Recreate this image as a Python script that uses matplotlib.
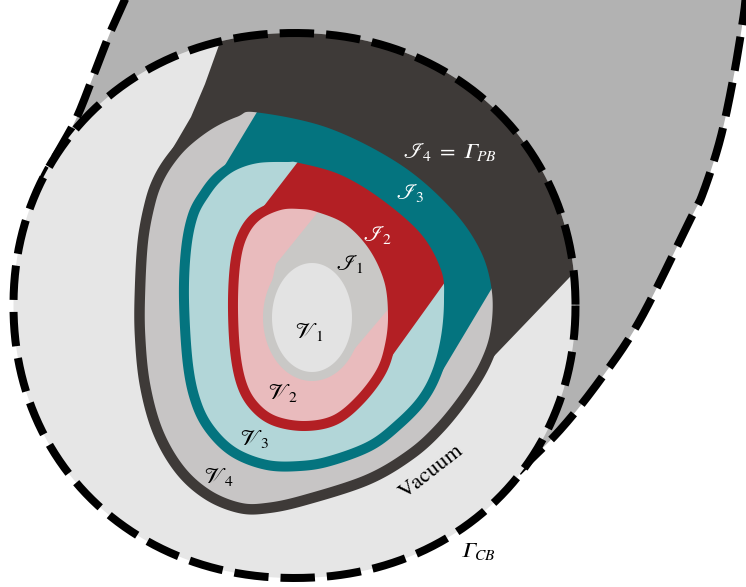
import numpy as np
import matplotlib
matplotlib.use("Agg")
import matplotlib.pyplot as plt
from matplotlib.patches import Polygon

plt.rcParams['mathtext.fontset'] = 'stix'

# outline points (image pixel coordinates, y pointing down)
teardrop_left = [(127, -5), (110, 33), (93, 77), (77, 117), (62, 145), (45, 175), (32, 205)]
teardrop_right = [(518, 472), (560, 430), (600, 380), (640, 320), (690, 220), (703, 193),
                  (720, 140), (733, 80), (743, 20), (746, -5)]
cb_center = (294.5, 305.5)
cb_axes = (281, 272.5)

c4 = [(140, 290), (143, 240), (150, 203), (158, 180), (170, 160), (186, 142), (210, 124),
      (235, 112), (256, 107), (330, 123), (403, 160), (455, 205), (485, 248), (497, 290),
      (496, 330), (486, 362), (467, 394), (440, 428), (410, 455), (367, 480), (305, 500),
      (268, 508), (240, 508), (208, 495), (180, 470), (158, 432), (145, 385), (140, 335)]
c3 = [(184, 300), (186, 250), (193, 215), (205, 193), (218, 177), (235, 165), (258, 158),
      (287, 157), (300, 158), (342, 170), (384, 195), (425, 231), (446, 269), (449, 300),
      (446, 337), (437, 372), (422, 400), (398, 425), (370, 446), (330, 461), (300, 466),
      (267, 465), (235, 453), (212, 432), (197, 405), (188, 365)]
c2 = [(233, 300), (236, 258), (244, 232), (258, 215), (280, 205), (300, 204), (318, 207),
      (348, 220), (373, 246), (389, 280), (393, 315), (390, 345), (381, 372), (360, 400),
      (335, 420), (305, 426), (275, 421), (255, 407), (242, 385), (235, 350)]
v1_center = (312, 317.5)
v1_axes = (44.5, 59)

wedge4 = [(269, -52), (219, 45), (205, 84), (191, 117), (177, 141), (165, 161), (315, 315),
          (452, 400), (568, 279), (626, 218), (800, 100), (800, -100), (300, -100)]
wedge3 = [(285, 65), (257, 112), (210, 190), (205, 198), (315, 315), (425, 400), (492, 288),
          (517, 245), (560, 80), (300, 30)]
wedge2 = [(337, 111), (297, 163), (247, 228), (243, 234), (315, 315), (392, 356), (438, 292),
          (472, 244), (470, 130)]
wedge1 = [(352, 170), (318, 212), (276, 264), (270, 290), (312, 318), (335, 372), (385, 313),
          (420, 272), (430, 180)]

labels = [r'$\mathscr{I}_4\;=\;\mathrm{𝛤}_{PB}$', r'$\mathscr{I}_3$', r'$\mathscr{I}_2$',
          r'$\mathscr{I}_1$', r'$\mathscr{V}_1$', r'$\mathscr{V}_2$', r'$\mathscr{V}_3$',
          r'$\mathscr{V}_4$', r'$\mathrm{𝛤}_{CB}$']
label_xy = [(450, 152), (410, 193), (378, 235), (350, 264), (309, 332), (283, 393),
            (255, 439), (219, 477), (478, 551)]
label_color = ['white', 'white', 'white', 'black', 'black', 'black', 'black', 'black', 'black']

col_out = '#b2b2b2'
col_vac = '#e6e6e6'
col_dark = '#3e3a38'
col_v4 = '#c7c5c5'
col_teal = '#04747f'
col_lteal = '#b2d6d8'
col_red = '#b31f24'
col_pink = '#e9bbbd'
col_j1 = '#c9c8c6'
col_v1 = '#e3e3e3'


def smooth(pts, n=30):
    p = np.array(pts, float)
    N = len(p)
    t = np.linspace(0, 1, n, endpoint=False)[:, None]
    out = []
    for i in range(N):
        p0, p1, p2, p3 = p[(i - 1) % N], p[i], p[(i + 1) % N], p[(i + 2) % N]
        out.append(0.5 * (2 * p1 + (-p0 + p2) * t + (2 * p0 - 5 * p1 + 4 * p2 - p3) * t ** 2
                          + (-p0 + 3 * p1 - 3 * p2 + p3) * t ** 3))
    return np.vstack(out)


def smooth_open(pts, n=30):
    p = np.array(pts, float)
    p = np.vstack([2 * p[0] - p[1], p, 2 * p[-1] - p[-2]])
    t = np.linspace(0, 1, n)[:, None]
    out = []
    for i in range(1, len(p) - 2):
        p0, p1, p2, p3 = p[i - 1], p[i], p[i + 1], p[i + 2]
        out.append(0.5 * (2 * p1 + (-p0 + p2) * t + (2 * p0 - 5 * p1 + 4 * p2 - p3) * t ** 2
                          + (-p0 + 3 * p1 - 3 * p2 + p3) * t ** 3))
    return np.vstack(out)


def superellipse(c, ax_, n=2.08, m=400):
    th = np.linspace(0, 2 * np.pi, m)
    x = c[0] + ax_[0] * np.sign(np.cos(th)) * np.abs(np.cos(th)) ** (2 / n)
    y = c[1] + ax_[1] * np.sign(np.sin(th)) * np.abs(np.sin(th)) ** (2 / n)
    return np.column_stack([x, y])


fig = plt.figure(figsize=(7.46, 5.87), dpi=100)
ax = fig.add_axes([0, 0, 1, 1])
ax.set_xlim(0, 746)
ax.set_ylim(587, 0)
ax.axis('off')

px = 0.72  # points per pixel
dash_kw = dict(color='black', lw=8 * px, linestyle=(0, (4.3, 1.5)), solid_capstyle='butt')

# outer grey region
left = smooth_open(teardrop_left)
right = smooth_open(teardrop_right)
inner = np.array([(100, 400), (300, 540), (480, 500)])
top = np.array([(760, -30), (120, -30)])
ax.add_patch(Polygon(np.vstack([left, inner, right, top]), closed=True, fc=col_out, ec='none', zorder=1))
ax.plot(left[:, 0], left[:, 1], zorder=2, **dash_kw)
ax.plot(right[:, 0], right[:, 1], zorder=2, **dash_kw)

# vacuum region and Gamma_CB
cb = superellipse(cb_center, cb_axes)
vac = Polygon(cb, closed=True, fc=col_vac, ec='none', zorder=3)
ax.add_patch(vac)
w = Polygon(wedge4, closed=True, fc=col_dark, ec='none', zorder=4)
ax.add_patch(w)
w.set_clip_path(vac)
ax.plot(cb[:, 0], cb[:, 1], zorder=20, **dash_kw)

# nested regions
levels = [(c4, col_v4, col_dark, 10.5, wedge3, col_teal),
          (c3, col_lteal, col_teal, 10, wedge2, col_red),
          (c2, col_pink, col_red, 10, wedge1, col_j1)]
z = 5
for pts, fill, edge, lw, wedge, wcol in levels:
    curve = smooth(pts)
    body = Polygon(curve, closed=True, fc=fill, ec='none', zorder=z)
    ax.add_patch(body)
    wp = Polygon(wedge, closed=True, fc=wcol, ec='none', zorder=z + 1)
    ax.add_patch(wp)
    wp.set_clip_path(body)
    ax.add_patch(Polygon(curve, closed=True, fc='none', ec=edge, lw=lw * px, zorder=z + 2))
    z += 3

v1 = superellipse(v1_center, v1_axes, n=2.0)
ax.add_patch(Polygon(v1, closed=True, fc=col_v1, ec=col_j1, lw=9 * px, zorder=z))

for s, (x, y), c in zip(labels, label_xy, label_color):
    ax.text(x, y, s, color=c, fontsize=16, ha='center', va='center', zorder=30)
ax.text(431, 472, 'Vacuum', fontsize=16, family='STIXGeneral', rotation=38,
        ha='center', va='center', zorder=30)

fig.savefig('out.png', dpi=100)
